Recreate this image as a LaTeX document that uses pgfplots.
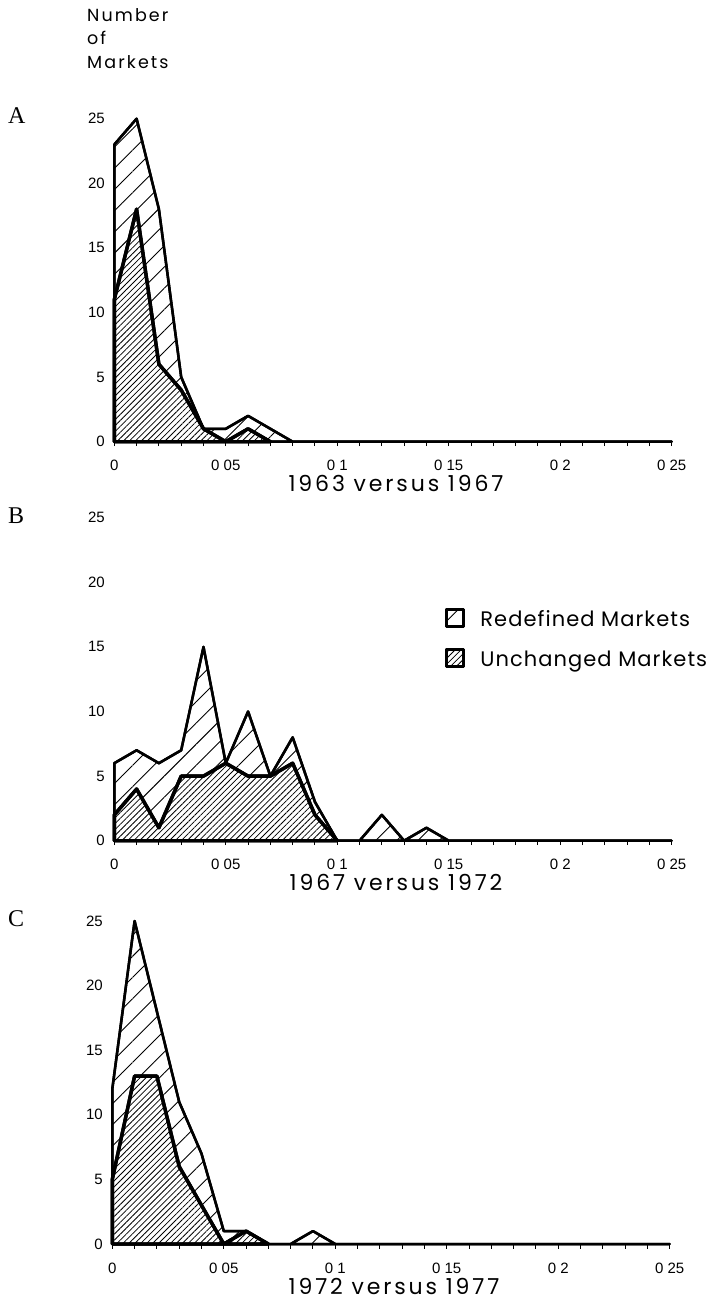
\documentclass[border=0pt]{standalone}
\usepackage{fontspec}
\setmainfont{Liberation Sans}
\newfontfamily\legfont{Poppins}[LetterSpace=5]
\newfontfamily\titlefont{Poppins}[LetterSpace=13]
\newfontfamily\labfont{Poppins}[LetterSpace=12]
\newfontfamily\letterfont{Liberation Serif}
\usepackage{pgfplots}
\pgfplotsset{compat=1.18}
\usetikzlibrary{patterns.meta}

\pgfplotsset{
  panel/.style={
    scale only axis, width=557.4pt, height=323pt,
    xmin=0, xmax=0.25, ymin=0, ymax=25,
    anchor=south west, clip=false,
    axis x line*=bottom, axis y line*=left,
    x axis line style={line width=2pt,-},
    y axis line style={draw=none},
    xtick={0,0.05,0.1,0.15,0.2,0.25},
    xticklabels={0,0 05,0 1,0 15,0 2,0 25},
    minor x tick num=4,
    xtick align=outside,
    major tick length=4.5pt, minor tick length=4.5pt,
    tick style={line width=1pt, black},
    ytick={0,5,10,15,20,25}, yticklabels={0,5,10,15,20,25},
    ytick style={draw=none},
    tick label style={font=\fontsize{15}{17}\selectfont},
    xticklabel style={inner sep=0pt, anchor=north, yshift=-14pt},
    yticklabel style={xshift=-6pt},
    xlabel style={at={(axis description cs:0.5,0)}, anchor=base, yshift=-50pt, xshift=3pt,
      font=\titlefont\fontsize{22}{26}\selectfont},
  },
  redef/.style={draw=black, line width=2.5pt, line join=round,
    preaction={fill=white},
    pattern={Lines[angle=45,distance=15pt,line width=0.9pt]}},
  unch/.style={draw=black, line width=3.4pt, line join=round,
    preaction={fill=white},
    pattern={Lines[angle=45,distance=4.2pt,line width=0.8pt]}},
}

\begin{document}
\begin{tikzpicture}
\useasboundingbox (0,0) rectangle (707pt,-1301pt);

% Panel A
\begin{axis}[panel, at={(114.3pt,-441.7pt)}, xlabel={1963 versus 1967}]
\addplot[redef] coordinates {(0,23)(0.01,25)(0.02,18)(0.03,5)(0.04,1)(0.05,1)(0.06,2)(0.07,1)(0.08,0)(0.25,0)} \closedcycle;
\addplot[unch] coordinates {(0,11)(0.01,18)(0.02,6)(0.03,4)(0.04,1)(0.05,0)(0.06,1)(0.07,0)} \closedcycle;
\end{axis}

% Panel B
\begin{axis}[panel, at={(114.3pt,-840.7pt)}, xlabel={1967 versus 1972},
  legend style={at={(rel axis cs:0.593,0.721)}, anchor=north west, draw=none, fill=none,
    inner sep=0pt, row sep=20pt, column sep=15pt, nodes={inner sep=0pt},
    font=\legfont\fontsize{21}{25}\selectfont},
  legend cell align=left,
  legend image code/.code={\draw[#1] (0pt,-7pt) rectangle (17pt,10pt);}]
\addplot[redef] coordinates {(0,6)(0.01,7)(0.02,6)(0.03,7)(0.04,15)(0.05,6)(0.06,10)(0.07,5)(0.08,8)(0.09,3)(0.10,0)(0.11,0)(0.12,2)(0.13,0)(0.14,1)(0.15,0)(0.25,0)} \closedcycle;
\addlegendentry{Redefined Markets}
\addplot[unch] coordinates {(0,2)(0.01,4)(0.02,1)(0.03,5)(0.04,5)(0.05,6)(0.06,5)(0.07,5)(0.08,6)(0.09,2)(0.10,0)} \closedcycle;
\addlegendentry{Unchanged Markets}
\end{axis}

% Panel C
\begin{axis}[panel, at={(112.3pt,-1244pt)}, xlabel={1972 versus 1977}]
\addplot[redef] coordinates {(0,12)(0.01,25)(0.02,18)(0.03,11)(0.04,7)(0.05,1)(0.06,1)(0.07,0)(0.08,0)(0.09,1)(0.10,0)(0.25,0)} \closedcycle;
\addplot[unch] coordinates {(0,5)(0.01,13)(0.02,13)(0.03,6)(0.04,3)(0.05,0)(0.06,1)(0.07,0)} \closedcycle;
\end{axis}

\node[anchor=base west, align=left, inner sep=0pt,
  font=\labfont\fontsize{17.5}{23.5}\selectfont] at (87pt,-68pt) {Number\\of\\Markets};
\node[anchor=base west, inner sep=0pt, font=\letterfont\fontsize{24}{28}\selectfont] at (8pt,-123pt) {A};
\node[anchor=base west, inner sep=0pt, font=\letterfont\fontsize{24}{28}\selectfont] at (8pt,-523pt) {B};
\node[anchor=base west, inner sep=0pt, font=\letterfont\fontsize{24}{28}\selectfont] at (8pt,-926pt) {C};
\end{tikzpicture}
\end{document}
